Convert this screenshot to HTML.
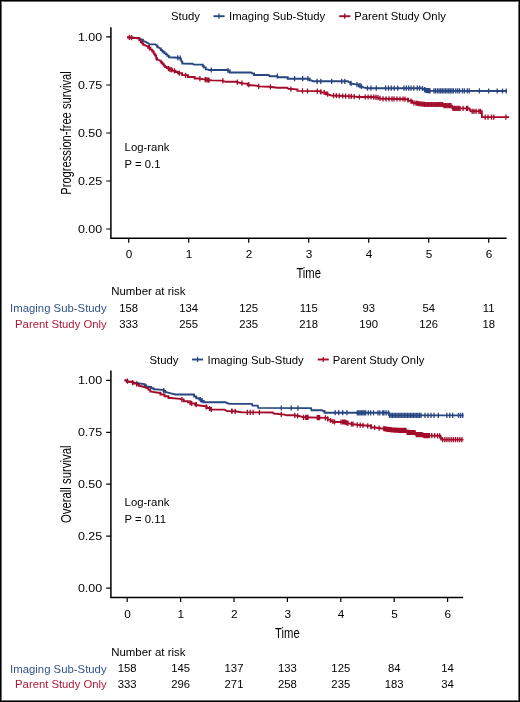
<!DOCTYPE html>
<html><head><meta charset="utf-8"><style>
html,body{margin:0;padding:0;background:#fff;}
.wrap{position:relative;width:520px;height:702px;overflow:hidden;background:#fff;}
.wrap:after{content:"";position:absolute;left:0;top:0;right:0;bottom:0;border:1px solid #000;box-shadow:inset 0 0 0 1px #6a6a6a;pointer-events:none;}
svg{position:absolute;left:0;top:0;will-change:transform;}
text{font-family:"Liberation Sans",sans-serif;}
</style></head><body><div class="wrap">
<svg width="520" height="702" viewBox="0 0 520 702">
<text x="171.0" y="20.2" font-size="11.3" fill="#000" text-anchor="start" textLength="28.9" lengthAdjust="spacingAndGlyphs">Study</text>
<path d="M213.5 16.2H224.6" stroke="#28467f" stroke-width="1.9"/>
<path d="M219 13.6V18.8" stroke="#28467f" stroke-width="1.3"/>
<text x="229.0" y="20.2" font-size="11.3" fill="#000" text-anchor="start" textLength="96.3" lengthAdjust="spacingAndGlyphs">Imaging Sub-Study</text>
<path d="M339.2 16.2H350.3" stroke="#a20b2a" stroke-width="1.9"/>
<path d="M344.7 13.6V18.8" stroke="#a20b2a" stroke-width="1.3"/>
<text x="354.3" y="20.2" font-size="11.3" fill="#000" text-anchor="start" textLength="91.5" lengthAdjust="spacingAndGlyphs">Parent Study Only</text>
<path d="M110.9 27.2V239.05M110.2 238.3H506.6" stroke="#000" stroke-width="1.5" fill="none"/>
<path d="M106.2 36.9H111M106.2 85H111M106.2 133H111M106.2 181H111M106.2 229.0H111M128.7 238.3V242.8M188.7 238.3V242.8M248.7 238.3V242.8M308.7 238.3V242.8M368.7 238.3V242.8M428.7 238.3V242.8M488.7 238.3V242.8" stroke="#000" stroke-width="1.2" fill="none"/>
<text x="102.2" y="40.699999999999996" font-size="11.6" fill="#000" text-anchor="end" textLength="24.3" lengthAdjust="spacingAndGlyphs">1.00</text>
<text x="102.2" y="88.8" font-size="11.6" fill="#000" text-anchor="end" textLength="24.3" lengthAdjust="spacingAndGlyphs">0.75</text>
<text x="102.2" y="136.8" font-size="11.6" fill="#000" text-anchor="end" textLength="24.3" lengthAdjust="spacingAndGlyphs">0.50</text>
<text x="102.2" y="184.8" font-size="11.6" fill="#000" text-anchor="end" textLength="24.3" lengthAdjust="spacingAndGlyphs">0.25</text>
<text x="102.2" y="232.8" font-size="11.6" fill="#000" text-anchor="end" textLength="24.3" lengthAdjust="spacingAndGlyphs">0.00</text>
<text x="129.0" y="257.79999999999995" font-size="11.8" fill="#000" text-anchor="middle">0</text>
<text x="189.0" y="257.79999999999995" font-size="11.8" fill="#000" text-anchor="middle">1</text>
<text x="249.0" y="257.79999999999995" font-size="11.8" fill="#000" text-anchor="middle">2</text>
<text x="309.0" y="257.79999999999995" font-size="11.8" fill="#000" text-anchor="middle">3</text>
<text x="369.0" y="257.79999999999995" font-size="11.8" fill="#000" text-anchor="middle">4</text>
<text x="429.0" y="257.79999999999995" font-size="11.8" fill="#000" text-anchor="middle">5</text>
<text x="489.0" y="257.79999999999995" font-size="11.8" fill="#000" text-anchor="middle">6</text>
<text x="308.7" y="277.59999999999997" font-size="14" fill="#000" text-anchor="middle" textLength="24.6" lengthAdjust="spacingAndGlyphs">Time</text>
<text transform="translate(70.6 133.0) rotate(-90)" x="0" y="0" font-size="14" fill="#000" text-anchor="middle" textLength="123.6" lengthAdjust="spacingAndGlyphs">Progression-free survival</text>
<text x="124.6" y="150.9" font-size="11.3" fill="#000" text-anchor="start" textLength="44.8" lengthAdjust="spacingAndGlyphs">Log-rank</text>
<text x="124.6" y="167.70000000000002" font-size="11.3" fill="#000" text-anchor="start">P = 0.1</text>
<polyline points="127.10,37.20 130.00,37.50 135.80,38.00 138.70,38.30 140.10,38.90 142.10,39.80 142.95,39.80 142.95,41.20 143.80,41.20 146.20,42.10 148.50,43.50 149.60,44.40 155.40,44.40 156.50,45.50 157.40,45.50 157.40,47.30 158.30,47.30 160.00,48.40 160.85,48.40 160.85,50.10 161.70,50.10 162.22,50.10 162.22,51.20 163.28,51.20 163.28,52.30 163.80,52.30 164.53,52.30 164.53,53.35 165.97,53.35 165.97,54.40 166.70,54.40 167.42,54.40 167.42,55.85 168.88,55.85 168.88,57.30 169.60,57.30 178.30,57.80 180.60,58.20 181.60,61.60 182.30,61.60 182.30,63.60 183.00,63.60 192.70,63.80 193.70,64.50 202.30,64.60 202.78,64.60 202.78,66.00 203.72,66.00 203.72,67.40 204.20,67.40 205.75,67.40 205.75,69.40 207.30,69.40 209.00,70.00 226.90,70.00 228.00,70.50 229.75,70.50 229.75,72.50 231.50,72.50 251.20,72.50 252.30,73.50 254.05,73.50 254.05,75.00 255.80,75.00 268.70,75.00 269.80,76.20 277.30,76.20 278.50,77.30 287.10,77.30 287.70,77.30 287.70,78.70 288.30,78.70 308.50,78.70 309.65,78.70 309.65,80.20 310.80,80.20 313.00,81.30 348.00,81.30 348.50,82.10 350.20,82.10 350.20,83.80 351.90,83.80 356.50,84.40 358.85,84.40 358.85,86.20 361.20,86.20 363.50,87.30 367.00,88.20 421.90,88.20 424.20,89.50 426.50,90.50 430.00,90.80 506.80,91.00" fill="none" stroke="#28467f" stroke-width="1.9" stroke-linejoin="miter"/>
<path d="M177.8 55.2V60.4M180.2 55.5V60.7M211.3 67.4V72.6M228.0 67.9V73.1M277.3 73.6V78.8M294.6 76.1V81.3M302.7 76.1V81.3M307.9 76.1V81.3M317.1 78.7V83.9M320.8 78.7V83.9M331.7 78.7V83.9M341.8 78.7V83.9M344.8 78.7V83.9M351.0 80.8V86.0M357.0 82.0V87.2M360.0 83.1V88.3M361.5 83.7V88.9M367.5 85.6V90.8M371.0 85.6V90.8M376.3 85.6V90.8M385.6 85.6V90.8M388.5 85.6V90.8M391.3 85.6V90.8M394.2 85.6V90.8M397.7 85.6V90.8M404.0 85.6V90.8M406.3 85.6V90.8M408.7 85.6V90.8M411.0 85.6V90.8M413.8 85.6V90.8M417.3 85.6V90.8M419.6 85.6V90.8M422.5 85.9V91.1M424.5 87.0V92.2M425.5 87.5V92.7M426.5 87.9V93.1M427.3 88.0V93.2M428.3 88.1V93.3M429.0 88.1V93.3M430.0 88.2V93.4M434.0 88.2V93.4M435.6 88.2V93.4M437.5 88.2V93.4M439.1 88.2V93.4M440.7 88.2V93.4M442.3 88.2V93.4M443.9 88.2V93.4M445.5 88.2V93.4M447.1 88.2V93.4M448.7 88.2V93.4M450.3 88.3V93.5M451.9 88.3V93.5M453.5 88.3V93.5M455.8 88.3V93.5M457.7 88.3V93.5M459.6 88.3V93.5M462.5 88.3V93.5M464.4 88.3V93.5M467.3 88.3V93.5M469.2 88.3V93.5M479.4 88.3V93.5M488.6 88.4V93.6M497.2 88.4V93.6M502.5 88.4V93.6M506.3 88.4V93.6" stroke="#28467f" stroke-width="1.3" fill="none"/>
<polyline points="127.10,37.20 130.00,37.50 135.80,38.00 138.70,38.30 139.40,38.30 139.40,40.30 140.10,40.30 140.80,40.30 140.80,42.10 141.50,42.10 142.07,42.10 142.07,43.40 143.23,43.40 143.23,44.70 143.80,44.70 146.70,46.10 148.15,46.10 148.15,47.80 149.60,47.80 150.45,47.80 150.45,49.60 151.30,49.60 152.20,49.60 152.20,51.30 153.10,51.30 153.38,51.30 153.38,52.45 153.92,52.45 153.92,53.60 154.20,53.60 154.65,53.60 154.65,54.75 155.55,54.75 155.55,55.90 156.00,55.90 156.50,58.20 157.10,58.20 157.10,59.70 157.70,59.70 160.20,60.60 160.70,60.60 160.70,61.83 161.70,61.83 161.70,63.07 162.70,63.07 162.70,64.30 163.20,64.30 163.85,64.30 163.85,65.65 165.15,65.65 165.15,67.00 165.80,67.00 166.75,67.00 166.75,68.15 168.65,68.15 168.65,69.30 169.60,69.30 172.00,69.30 172.00,70.80 174.40,70.80 175.60,70.80 175.60,72.00 178.00,72.00 178.00,73.20 179.20,73.20 182.10,73.20 182.10,75.10 185.00,75.10 187.90,75.10 187.90,77.00 190.80,77.00 194.65,77.00 194.65,78.50 198.50,78.50 204.20,79.40 208.00,80.00 211.90,80.40 222.30,80.60 225.80,81.80 236.20,81.80 239.60,82.70 244.20,83.60 247.70,83.60 247.70,85.20 251.20,85.20 255.80,85.60 259.20,86.40 269.80,86.80 277.30,87.70 287.10,87.70 288.30,88.80 296.90,89.40 297.45,89.40 297.45,90.90 298.00,90.90 317.00,91.10 320.60,91.10 320.60,92.50 324.20,92.50 325.95,92.50 325.95,94.20 327.70,94.20 331.20,95.50 351.90,96.40 358.80,97.00 372.00,97.00 376.90,97.40 381.50,98.80 404.60,99.00 405.80,99.30 408.10,99.30 408.10,100.80 410.40,100.80 412.10,100.80 412.10,102.80 413.80,102.80 418.50,103.60 425.40,104.50 443.30,104.50 443.80,105.60 451.90,105.60 452.30,108.40 469.60,108.40 470.30,110.80 471.00,111.30 481.80,111.30 482.00,117.10 509.20,117.10" fill="none" stroke="#a20b2a" stroke-width="1.9" stroke-linejoin="miter"/>
<path d="M129.4 34.8V40.0M131.5 35.0V40.2M149.4 45.1V50.3M156.3 54.7V59.9M168.5 66.0V71.2M170.0 66.8V72.0M171.5 67.3V72.5M174.4 68.2V73.4M179.2 70.6V75.8M185.5 72.7V77.9M199.9 76.1V81.3M205.2 77.0V82.2M205.6 77.0V82.2M207.1 77.3V82.5M208.5 77.5V82.7M209.0 77.5V82.7M222.9 78.2V83.4M237.3 79.5V84.7M241.9 80.6V85.8M248.8 82.1V87.3M258.7 83.7V88.9M270.4 84.3V89.5M290.9 86.4V91.6M302.5 88.3V93.5M307.5 88.4V93.6M317.3 88.6V93.8M320.8 89.2V94.4M324.2 89.9V95.1M327.7 91.6V96.8M333.5 93.0V98.2M336.3 93.1V98.3M339.2 93.2V98.4M342.7 93.4V98.6M345.6 93.5V98.7M349.0 93.7V98.9M351.3 93.8V99.0M354.2 94.0V99.2M359.4 94.4V99.6M365.2 94.4V99.6M368.1 94.4V99.6M371.0 94.4V99.6M373.8 94.5V99.7M376.0 94.7V99.9M378.0 95.1V100.3M380.0 95.7V100.9M383.0 96.2V101.4M386.0 96.2V101.4M389.0 96.3V101.5M392.0 96.3V101.5M394.0 96.3V101.5M397.0 96.3V101.5M400.0 96.4V101.6M403.0 96.4V101.6M405.0 96.5V101.7M408.0 97.4V102.6M411.0 98.6V103.8M414.0 100.2V105.4M416.0 100.6V105.8M417.4 100.8V106.0M418.8 101.0V106.2M420.2 101.2V106.4M421.6 101.4V106.6M423.0 101.6V106.8M424.4 101.8V107.0M425.8 101.9V107.1M427.2 101.9V107.1M428.6 101.9V107.1M430.0 101.9V107.1M431.4 101.9V107.1M432.8 101.9V107.1M434.2 101.9V107.1M435.6 101.9V107.1M437.0 101.9V107.1M438.4 101.9V107.1M439.8 101.9V107.1M441.2 101.9V107.1M442.6 101.9V107.1M444.0 103.0V108.2M445.4 103.0V108.2M446.8 103.0V108.2M448.2 103.0V108.2M449.6 103.0V108.2M451.0 103.0V108.2M453.0 105.8V111.0M454.4 105.8V111.0M455.8 105.8V111.0M457.2 105.8V111.0M458.6 105.8V111.0M460.0 105.8V111.0M463.0 105.8V111.0M466.5 105.8V111.0M467.7 105.8V111.0M472.2 108.7V113.9M474.0 108.7V113.9M476.0 108.7V113.9M479.0 108.7V113.9M480.5 108.7V113.9M485.2 114.5V119.7M488.0 114.5V119.7M491.5 114.5V119.7M493.8 114.5V119.7M505.9 114.5V119.7" stroke="#a20b2a" stroke-width="1.3" fill="none"/>
<text x="111.2" y="295.0" font-size="11.3" fill="#000" text-anchor="start" textLength="74.3" lengthAdjust="spacingAndGlyphs">Number at risk</text>
<text x="106.6" y="312.3" font-size="11.3" fill="#34538c" text-anchor="end" textLength="96.5" lengthAdjust="spacingAndGlyphs">Imaging Sub-Study</text>
<text x="106.6" y="327.9" font-size="11.3" fill="#ad1838" text-anchor="end" textLength="91.5" lengthAdjust="spacingAndGlyphs">Parent Study Only</text>
<text x="128.7" y="311.6" font-size="11.3" fill="#000" text-anchor="middle">158</text>
<text x="128.7" y="327.8" font-size="11.3" fill="#000" text-anchor="middle">333</text>
<text x="188.7" y="311.6" font-size="11.3" fill="#000" text-anchor="middle">134</text>
<text x="188.7" y="327.8" font-size="11.3" fill="#000" text-anchor="middle">255</text>
<text x="248.7" y="311.6" font-size="11.3" fill="#000" text-anchor="middle">125</text>
<text x="248.7" y="327.8" font-size="11.3" fill="#000" text-anchor="middle">235</text>
<text x="308.7" y="311.6" font-size="11.3" fill="#000" text-anchor="middle">115</text>
<text x="308.7" y="327.8" font-size="11.3" fill="#000" text-anchor="middle">218</text>
<text x="368.7" y="311.6" font-size="11.3" fill="#000" text-anchor="middle">93</text>
<text x="368.7" y="327.8" font-size="11.3" fill="#000" text-anchor="middle">190</text>
<text x="428.7" y="311.6" font-size="11.3" fill="#000" text-anchor="middle">54</text>
<text x="428.7" y="327.8" font-size="11.3" fill="#000" text-anchor="middle">126</text>
<text x="488.7" y="311.6" font-size="11.3" fill="#000" text-anchor="middle">11</text>
<text x="488.7" y="327.8" font-size="11.3" fill="#000" text-anchor="middle">18</text>
<text x="149.5" y="363.5" font-size="11.3" fill="#000" text-anchor="start" textLength="28.9" lengthAdjust="spacingAndGlyphs">Study</text>
<path d="M192.0 359.5H203.1" stroke="#28467f" stroke-width="1.9"/>
<path d="M197.5 356.9V362.1" stroke="#28467f" stroke-width="1.3"/>
<text x="207.5" y="363.5" font-size="11.3" fill="#000" text-anchor="start" textLength="96.3" lengthAdjust="spacingAndGlyphs">Imaging Sub-Study</text>
<path d="M317.7 359.5H328.8" stroke="#a20b2a" stroke-width="1.9"/>
<path d="M323.2 356.9V362.1" stroke="#a20b2a" stroke-width="1.3"/>
<text x="332.8" y="363.5" font-size="11.3" fill="#000" text-anchor="start" textLength="91.5" lengthAdjust="spacingAndGlyphs">Parent Study Only</text>
<path d="M110.9 370.5V598.25M110.2 597.5H463.1" stroke="#000" stroke-width="1.5" fill="none"/>
<path d="M106.2 380.3H111M106.2 432.3H111M106.2 484.2H111M106.2 536.2H111M106.2 588.2H111M127.2 597.5V602.0M180.6 597.5V602.0M234.0 597.5V602.0M287.4 597.5V602.0M340.8 597.5V602.0M394.2 597.5V602.0M447.6 597.5V602.0" stroke="#000" stroke-width="1.2" fill="none"/>
<text x="102.2" y="384.1" font-size="11.6" fill="#000" text-anchor="end" textLength="24.3" lengthAdjust="spacingAndGlyphs">1.00</text>
<text x="102.2" y="436.1" font-size="11.6" fill="#000" text-anchor="end" textLength="24.3" lengthAdjust="spacingAndGlyphs">0.75</text>
<text x="102.2" y="488.0" font-size="11.6" fill="#000" text-anchor="end" textLength="24.3" lengthAdjust="spacingAndGlyphs">0.50</text>
<text x="102.2" y="540.0" font-size="11.6" fill="#000" text-anchor="end" textLength="24.3" lengthAdjust="spacingAndGlyphs">0.25</text>
<text x="102.2" y="592.0" font-size="11.6" fill="#000" text-anchor="end" textLength="24.3" lengthAdjust="spacingAndGlyphs">0.00</text>
<text x="127.5" y="618.1" font-size="11.8" fill="#000" text-anchor="middle">0</text>
<text x="180.9" y="618.1" font-size="11.8" fill="#000" text-anchor="middle">1</text>
<text x="234.3" y="618.1" font-size="11.8" fill="#000" text-anchor="middle">2</text>
<text x="287.7" y="618.1" font-size="11.8" fill="#000" text-anchor="middle">3</text>
<text x="341.1" y="618.1" font-size="11.8" fill="#000" text-anchor="middle">4</text>
<text x="394.5" y="618.1" font-size="11.8" fill="#000" text-anchor="middle">5</text>
<text x="447.9" y="618.1" font-size="11.8" fill="#000" text-anchor="middle">6</text>
<text x="287.4" y="638.1" font-size="14" fill="#000" text-anchor="middle" textLength="24.6" lengthAdjust="spacingAndGlyphs">Time</text>
<text transform="translate(70.6 484.3) rotate(-90)" x="0" y="0" font-size="14" fill="#000" text-anchor="middle" textLength="77.6" lengthAdjust="spacingAndGlyphs">Overall survival</text>
<text x="124.6" y="506.4" font-size="11.3" fill="#000" text-anchor="start" textLength="44.8" lengthAdjust="spacingAndGlyphs">Log-rank</text>
<text x="124.6" y="523.1999999999999" font-size="11.3" fill="#000" text-anchor="start">P = 0.11</text>
<polyline points="124.60,380.30 129.20,381.60 136.20,383.00 137.30,383.00 139.60,383.50 144.20,384.10 144.77,384.10 144.77,385.25 145.93,385.25 145.93,386.40 146.50,386.40 150.00,387.00 151.15,387.00 151.15,388.15 153.45,388.15 153.45,389.30 154.60,389.30 162.70,389.90 163.57,389.90 163.57,391.05 165.32,391.05 165.32,392.20 166.20,392.20 170.80,393.30 175.40,394.50 193.50,394.50 194.05,394.50 194.05,396.50 194.60,396.50 196.35,396.50 196.35,398.30 198.10,398.30 199.25,398.30 199.25,399.63 201.55,399.63 201.55,400.97 203.85,400.97 203.85,402.30 205.00,402.30 225.80,402.30 228.10,403.50 230.40,403.90 251.90,403.90 252.50,405.60 257.70,405.60 258.30,407.90 311.00,408.10 311.50,410.20 321.90,410.20 323.10,411.00 324.55,411.00 324.55,412.70 326.00,412.70 388.50,412.80 388.77,412.80 388.77,414.10 389.33,414.10 389.33,415.40 389.60,415.40 463.50,415.40" fill="none" stroke="#28467f" stroke-width="1.9" stroke-linejoin="miter"/>
<path d="M163.8 388.0V393.2M200.4 397.0V402.2M202.1 398.0V403.2M281.3 405.4V410.6M291.3 405.4V410.6M297.9 405.5V410.7M335.2 410.1V415.3M338.7 410.1V415.3M342.7 410.1V415.3M346.9 410.1V415.3M357.3 410.2V415.4M358.7 410.2V415.4M360.1 410.2V415.4M361.5 410.2V415.4M362.9 410.2V415.4M364.3 410.2V415.4M365.7 410.2V415.4M368.3 410.2V415.4M370.6 410.2V415.4M373.5 410.2V415.4M378.0 410.2V415.4M379.8 410.2V415.4M382.7 410.2V415.4M384.0 410.2V415.4M386.2 410.2V415.4M388.5 410.2V415.4M389.5 412.6V417.8M391.0 412.8V418.0M392.5 412.8V418.0M394.0 412.8V418.0M395.5 412.8V418.0M397.0 412.8V418.0M398.5 412.8V418.0M400.0 412.8V418.0M401.5 412.8V418.0M403.0 412.8V418.0M404.5 412.8V418.0M406.0 412.8V418.0M407.5 412.8V418.0M409.0 412.8V418.0M410.5 412.8V418.0M412.0 412.8V418.0M413.5 412.8V418.0M415.0 412.8V418.0M416.5 412.8V418.0M418.0 412.8V418.0M419.5 412.8V418.0M421.0 412.8V418.0M425.0 412.8V418.0M428.0 412.8V418.0M431.0 412.8V418.0M434.0 412.8V418.0M438.3 412.8V418.0M446.9 412.8V418.0M449.8 412.8V418.0M452.7 412.8V418.0M458.5 412.8V418.0M460.6 412.8V418.0M462.7 412.8V418.0" stroke="#28467f" stroke-width="1.3" fill="none"/>
<polyline points="124.60,380.30 126.90,380.30 126.90,381.80 129.20,381.80 132.70,381.80 132.70,383.50 136.20,383.50 137.05,383.50 137.05,384.65 138.75,384.65 138.75,385.80 139.60,385.80 144.20,387.00 147.70,388.20 148.57,388.20 148.57,389.90 150.32,389.90 150.32,391.60 151.20,391.60 158.10,392.80 160.40,392.80 160.40,394.50 162.70,394.50 164.45,394.50 164.45,396.20 166.20,396.20 168.50,396.20 168.50,398.00 170.80,398.00 180.00,398.90 180.80,399.40 183.65,399.40 183.65,401.20 186.50,401.20 187.95,401.20 187.95,402.35 190.85,402.35 190.85,403.50 192.30,403.50 195.20,403.50 195.20,405.20 198.10,405.20 205.00,406.30 206.72,406.30 206.72,407.95 210.18,407.95 210.18,409.60 211.90,409.60 224.60,409.60 226.90,411.00 235.00,411.30 241.50,412.30 272.70,412.50 273.80,413.50 284.20,414.60 286.50,415.30 294.20,415.30 300.00,416.20 303.50,417.30 326.50,417.90 327.65,417.90 327.65,419.60 328.80,419.60 330.55,419.60 330.55,421.30 332.30,421.30 334.60,422.00 345.00,422.00 346.90,422.90 351.50,424.00 357.30,424.80 367.70,425.80 371.15,425.80 371.15,427.50 374.60,427.50 383.80,428.70 389.60,429.60 395.00,430.20 406.50,430.40 406.80,432.40 415.20,432.50 415.50,434.60 423.80,434.80 424.10,435.60 440.50,435.80 441.20,439.60 463.50,439.60" fill="none" stroke="#a20b2a" stroke-width="1.9" stroke-linejoin="miter"/>
<path d="M127.5 378.6V383.8M132.7 380.0V385.2M136.7 381.2V386.4M181.9 397.1V402.3M190.0 400.0V405.2M191.7 400.7V405.9M196.3 402.1V407.3M206.2 404.3V409.5M209.6 405.9V411.1M211.3 406.7V411.9M232.1 408.6V413.8M231.7 408.6V413.8M235.2 408.7V413.9M247.3 409.7V414.9M250.2 409.8V415.0M253.1 409.8V415.0M259.4 409.8V415.0M281.3 411.7V416.9M294.8 412.8V418.0M297.7 413.2V418.4M303.5 414.7V419.9M305.8 414.8V420.0M307.0 414.8V420.0M308.0 414.8V420.0M317.3 415.1V420.3M318.5 415.1V420.3M319.6 415.1V420.3M325.4 415.3V420.5M327.7 416.2V421.4M330.6 417.9V423.1M332.9 418.9V424.1M334.6 419.4V424.6M341.0 419.4V424.6M342.7 419.4V424.6M344.0 419.4V424.6M345.3 419.5V424.7M346.6 420.2V425.4M347.9 420.5V425.7M351.5 421.4V426.6M353.0 421.6V426.8M357.3 422.2V427.4M360.2 422.5V427.7M363.0 422.7V427.9M367.7 423.2V428.4M371.0 424.0V429.2M374.6 424.9V430.1M379.2 425.5V430.7M383.8 426.1V431.3M385.1 426.3V431.5M386.4 426.5V431.7M387.7 426.7V431.9M389.0 426.9V432.1M390.3 427.1V432.3M391.6 427.2V432.4M392.9 427.4V432.6M394.2 427.5V432.7M395.5 427.6V432.8M396.8 427.6V432.8M398.1 427.7V432.9M399.4 427.7V432.9M400.7 427.7V432.9M402.0 427.7V432.9M403.3 427.7V432.9M404.6 427.8V433.0M405.9 427.8V433.0M407.2 429.8V435.0M408.5 429.8V435.0M409.8 429.8V435.0M411.1 429.9V435.1M412.4 429.9V435.1M413.7 429.9V435.1M415.0 429.9V435.1M416.3 432.0V437.2M417.6 432.1V437.3M418.9 432.1V437.3M420.2 432.1V437.3M421.5 432.1V437.3M422.8 432.2V437.4M424.1 433.0V438.2M425.4 433.0V438.2M426.7 433.0V438.2M428.0 433.0V438.2M429.3 433.1V438.3M431.8 433.1V438.3M434.7 433.1V438.3M437.6 433.2V438.4M439.7 433.2V438.4M442.6 437.0V442.2M444.8 437.0V442.2M446.9 437.0V442.2M449.0 437.0V442.2M451.2 437.0V442.2M453.3 437.0V442.2M455.5 437.0V442.2M457.6 437.0V442.2M459.8 437.0V442.2M461.9 437.0V442.2" stroke="#a20b2a" stroke-width="1.3" fill="none"/>
<text x="111.2" y="655.5" font-size="11.3" fill="#000" text-anchor="start" textLength="74.3" lengthAdjust="spacingAndGlyphs">Number at risk</text>
<text x="106.6" y="672.8" font-size="11.3" fill="#34538c" text-anchor="end" textLength="96.5" lengthAdjust="spacingAndGlyphs">Imaging Sub-Study</text>
<text x="106.6" y="688.4" font-size="11.3" fill="#ad1838" text-anchor="end" textLength="91.5" lengthAdjust="spacingAndGlyphs">Parent Study Only</text>
<text x="127.2" y="672.1" font-size="11.3" fill="#000" text-anchor="middle">158</text>
<text x="127.2" y="688.3" font-size="11.3" fill="#000" text-anchor="middle">333</text>
<text x="180.6" y="672.1" font-size="11.3" fill="#000" text-anchor="middle">145</text>
<text x="180.6" y="688.3" font-size="11.3" fill="#000" text-anchor="middle">296</text>
<text x="234.0" y="672.1" font-size="11.3" fill="#000" text-anchor="middle">137</text>
<text x="234.0" y="688.3" font-size="11.3" fill="#000" text-anchor="middle">271</text>
<text x="287.4" y="672.1" font-size="11.3" fill="#000" text-anchor="middle">133</text>
<text x="287.4" y="688.3" font-size="11.3" fill="#000" text-anchor="middle">258</text>
<text x="340.8" y="672.1" font-size="11.3" fill="#000" text-anchor="middle">125</text>
<text x="340.8" y="688.3" font-size="11.3" fill="#000" text-anchor="middle">235</text>
<text x="394.2" y="672.1" font-size="11.3" fill="#000" text-anchor="middle">84</text>
<text x="394.2" y="688.3" font-size="11.3" fill="#000" text-anchor="middle">183</text>
<text x="447.6" y="672.1" font-size="11.3" fill="#000" text-anchor="middle">14</text>
<text x="447.6" y="688.3" font-size="11.3" fill="#000" text-anchor="middle">34</text>
</svg></div></body></html>
